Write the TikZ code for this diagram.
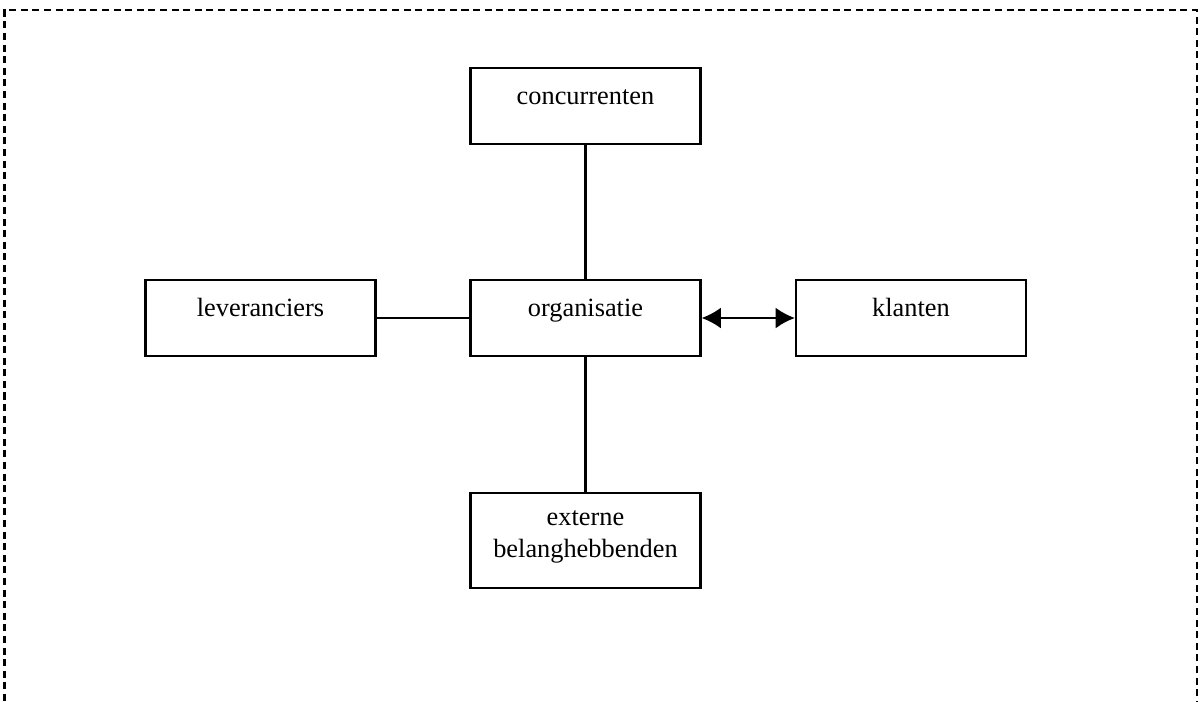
\documentclass[tikz,border=0pt]{standalone}
\usepackage{fontspec}
\setmainfont{Liberation Serif}
\usetikzlibrary{arrows.meta}

\begin{document}
\begin{tikzpicture}[x=0.02cm,y=-0.02cm,
  vak/.style={draw,line width=1.3pt,minimum width=4.6cm,minimum height=1.52cm,inner sep=0pt,font=\fontsize{15}{18}\selectfont},
  enkel/.style={text height=10pt,text depth=12.2pt},
  lijn/.style={line width=1.3pt},
  pijl/.tip={Latex[length=11pt,width=12pt]}]
\useasboundingbox (0,0) rectangle (1200,701);
\draw[line width=1.2pt,dash pattern=on 4pt off 2.6pt] (4.5,701) -- (4.5,10) -- (1197,10) -- (1197,701);
\node[vak,enkel] (conc) at (585.5,106) {concurrenten};
\node[vak,enkel] (org) at (585.5,318) {organisatie};
\node[vak,enkel] (lev) at (260.5,318) {leveranciers};
\node[vak,enkel] (klant) at (911,318) {klanten};
\node[vak,minimum height=1.9cm,align=center] (ext) at (585.5,540.5) {externe\\belanghebbenden\rule[-7.4pt]{0pt}{7.4pt}};
\draw[lijn] (conc) -- (org);
\draw[lijn] (lev) -- (org);
\draw[lijn] (org) -- (ext);
\draw[lijn,pijl-pijl] (org) -- (klant);
\end{tikzpicture}
\end{document}
